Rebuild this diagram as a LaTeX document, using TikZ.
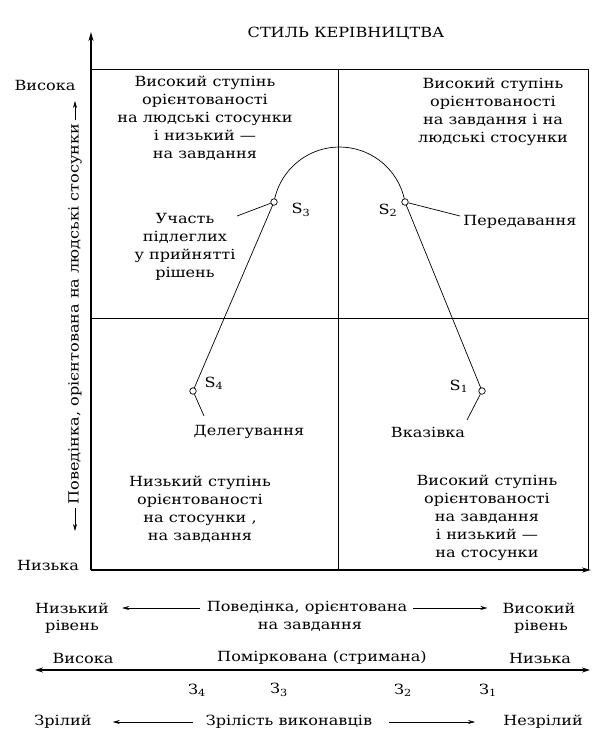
\documentclass[tikz,border=0pt]{standalone}
\usepackage{fontspec}
\setmainfont[FakeStretch=1.15]{DejaVu Serif}
\usetikzlibrary{arrows.meta}
\begin{document}
\begin{tikzpicture}[x=1pt,y=-1pt,
  txt/.style={font=\fontsize{14}{18}\selectfont, align=center, inner sep=0pt},
  axis/.style={line width=1.3pt},
  grid/.style={line width=0.7pt},
  curve/.style={line width=0.7pt},
  lead/.style={line width=0.7pt},
  dot/.style={circle, draw, fill=white, line width=0.7pt, minimum size=6.5pt, inner sep=0pt},
  arr/.style={-{Stealth[length=7pt,width=4pt]}, line width=0.6pt},
  bigarr/.style={{Stealth[length=8pt,width=5pt]}-{Stealth[length=8pt,width=5pt]}, line width=1.1pt},
  axarr/.style={-{Stealth[length=9pt,width=5pt]}, line width=1.3pt}
]
\useasboundingbox (0,0) rectangle (595,741);

% frame and axes
\coordinate (o) at (91,570);
\coordinate (ytop) at (91,32);
\coordinate (xend) at (591,570);
\coordinate (tl) at (91,69);
\coordinate (tr) at (588,69);
\coordinate (br) at (588,570);
\coordinate (mt) at (338,69);
\coordinate (mb) at (338,570);
\coordinate (ml) at (91,318);
\coordinate (mr) at (588,318);
\draw[axarr] (o) -- (ytop);
\draw[axarr] (o) -- (xend);
\draw[grid] (tl) -- (tr) -- (br);
\draw[grid] (mt) -- (mb);
\draw[grid] (ml) -- (mr);

% title and axis labels
\node[txt] (title) at (346,33) {СТИЛЬ КЕРІВНИЦТВА};
\node[txt] (high) at (45,85) {Висока};
\node[txt] (low) at (48,565) {Низька};
\node[txt, rotate=90] (vlab) at (75,314) {Поведінка, орієнтована на людські стосунки};
\coordinate (vup) at (75,101);
\coordinate (vdown) at (75,531);
\draw[arr, shorten <=3pt] (vlab.east) -- (vup);
\draw[arr, shorten <=3pt] (vlab.west) -- (vdown);

% quadrant texts
\node[txt] (q1) at (205,118) {Високий ступінь\\орієнтованості\\на людські стосунки\\і низький —\\на завдання};
\node[txt] (q2) at (493,112) {Високий ступінь\\орієнтованості\\на завдання і на\\людські стосунки};
\node[txt] (q3) at (200,509) {Низький ступінь\\орієнтованості\\на стосунки ,\\на завдання};
\node[txt] (q4) at (487,518) {Високий ступінь\\орієнтованості\\на завдання\\і низький —\\на стосунки};

% curve
\coordinate (p1) at (482,391);
\coordinate (p2) at (405,202);
\coordinate (p3) at (274,202);
\coordinate (p4) at (193,391);
\draw[curve] (p4) -- (p3) arc[start angle=-170, end angle=-10, radius=66.5] -- (p1);
\node[dot] (s1) at (p1) {};
\node[dot] (s2) at (p2) {};
\node[dot] (s3) at (p3) {};
\node[dot] (s4) at (p4) {};
\node[txt] (l1) at (459,386) {S\textsubscript{1}};
\node[txt] (l2) at (388,210) {S\textsubscript{2}};
\node[txt] (l3) at (301,210) {S\textsubscript{3}};
\node[txt] (l4) at (214,383) {S\textsubscript{4}};

% style labels
\node[txt] (uch) at (185,247) {Участь\\підлеглих\\у прийнятті\\рішень};
\node[txt] (per) at (520,222) {Передавання};
\node[txt] (del) at (249,432) {Делегування};
\node[txt] (vka) at (428,432) {Вказівка};
\coordinate (e3) at (237,216);
\coordinate (e2) at (460,216);
\coordinate (e4) at (204,416);
\coordinate (e1) at (467,420);
\draw[lead] (s3) -- (e3);
\draw[lead] (s2) -- (e2);
\draw[lead] (s4) -- (e4);
\draw[lead] (s1) -- (e1);

% bottom scale: task behaviour
\node[txt] (nr1) at (72,608) {Низький};
\node[txt] (nr2) at (72,627) {рівень};
\node[txt] (pz1) at (307,608) {Поведінка, орієнтована};
\node[txt] (pz2) at (310,627) {на завдання};
\node[txt] (vr1) at (539,608) {Високий};
\node[txt] (vr2) at (541,627) {рівень};
\draw[arr, shorten <=7pt, shorten >=13pt] (pz1.west) -- (nr1.east);
\draw[arr, shorten <=6pt, shorten >=15pt] (pz1.east) -- (vr1.west);

% bottom scale: leadership degree
\node[txt] (vys) at (83,658) {Висока};
\node[txt] (pom) at (322,658) {Поміркована (стримана)};
\node[txt] (nyz) at (540,658) {Низька};
\coordinate (la) at (35,670);
\coordinate (ra) at (590,670);
\draw[bigarr] (la) -- (ra);
\node[txt] (z4) at (197,690) {З\textsubscript{4}};
\node[txt] (z3) at (279,690) {З\textsubscript{3}};
\node[txt] (z2) at (403,690) {З\textsubscript{2}};
\node[txt] (z1) at (488,690) {З\textsubscript{1}};

% bottom scale: maturity
\node[txt] (zr) at (63,722) {Зрілий};
\node[txt] (zv) at (289,722) {Зрілість виконавців};
\node[txt] (nz) at (543,722) {Незрілий};
\draw[arr, shorten <=13pt, shorten >=21pt] (zv.west) -- (zr.east);
\draw[arr, shorten <=17pt, shorten >=28pt] (zv.east) -- (nz.west);
\end{tikzpicture}
\end{document}
